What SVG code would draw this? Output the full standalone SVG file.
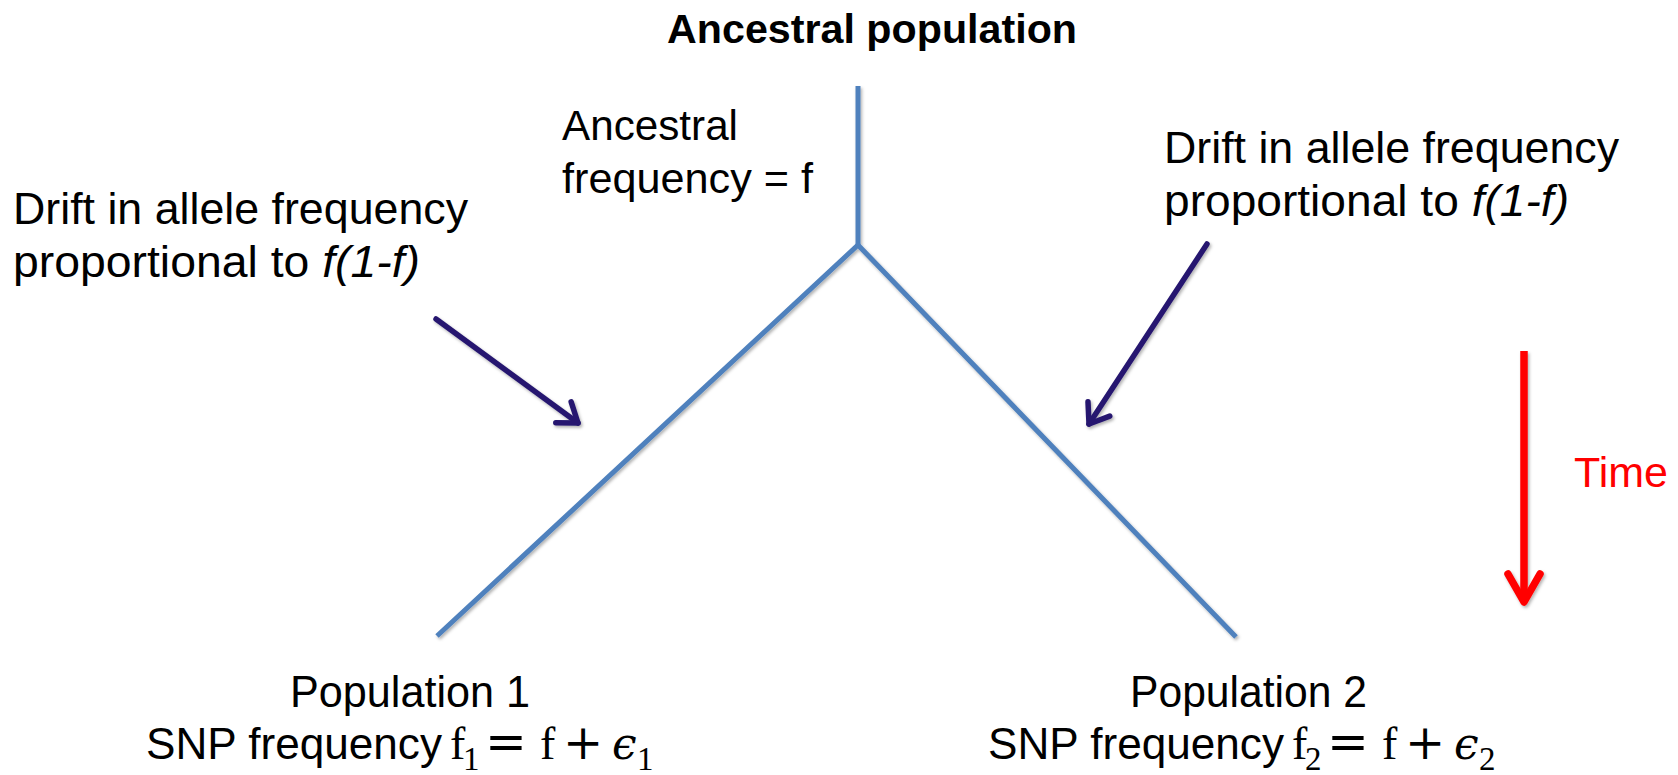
<svg xmlns="http://www.w3.org/2000/svg" width="1678" height="775" viewBox="0 0 1678 775">
  <defs>
    <style>
      .t { font-family: "Liberation Sans", Arial, sans-serif; fill: #000; }
      .m { font-family: "Liberation Serif", "Times New Roman", serif; fill: #000; }
      .ms { font-family: "DejaVu Serif", "Liberation Serif", serif; fill: #000; }
      .tree { fill: none; stroke: #4F81BD; stroke-width: 5; stroke-linecap: butt; stroke-linejoin: miter; }
      .drift { fill: none; stroke: #26186F; stroke-width: 5.5; stroke-linecap: round; }
      .time { fill: none; stroke: #FF0000; stroke-width: 7.5; }
    </style>
    <filter id="sh" filterUnits="userSpaceOnUse" x="0" y="0" width="1678" height="775">
      <feDropShadow dx="1.5" dy="2" stdDeviation="1.5" flood-color="#000" flood-opacity="0.3"/>
    </filter>
    <marker id="headDark" markerUnits="userSpaceOnUse" viewBox="-24 -16 28 32" refX="0" refY="0" markerWidth="28" markerHeight="32" orient="auto" overflow="visible">
      <path d="M-18,-13 L0,0 L-18,13" fill="none" stroke="#26186F" stroke-width="5.5" stroke-linecap="round" stroke-linejoin="round"/>
    </marker>
    <marker id="headRed" markerUnits="userSpaceOnUse" viewBox="-34 -20 38 40" refX="0" refY="0" markerWidth="38" markerHeight="40" orient="auto" overflow="visible">
      <path d="M-28,-16 L0,0 L-28,16" fill="none" stroke="#FF0000" stroke-width="7.5" stroke-linecap="round" stroke-linejoin="round"/>
    </marker>
  </defs>

  <rect x="0" y="0" width="1678" height="775" fill="#FFFFFF"/>

  <g id="connectors">
    <g id="tree" filter="url(#sh)">
      <path class="tree" d="M858,86 L858,245"/>
      <path class="tree" d="M437,636 L858,245 L1236,637"/>
    </g>
    <g id="drift-arrows" filter="url(#sh)">
      <path class="drift" d="M436,319 L578,423" marker-end="url(#headDark)"/>
      <path class="drift" d="M1207,244 L1089,424" marker-end="url(#headDark)"/>
    </g>
    <g id="time-arrow" filter="url(#sh)">
      <path class="time" d="M1524,351 L1524,602" marker-end="url(#headRed)"/>
    </g>
  </g>

  <g id="title">
    <text class="t" x="667" y="43" font-size="40" font-weight="bold" textLength="410" lengthAdjust="spacingAndGlyphs">Ancestral population</text>
  </g>

  <g id="ancestral-frequency">
    <text class="t" x="562" y="140" font-size="43" textLength="176" lengthAdjust="spacingAndGlyphs">Ancestral</text>
    <text class="t" x="562" y="193" font-size="43" textLength="251" lengthAdjust="spacingAndGlyphs">frequency = f</text>
  </g>

  <g id="drift-left">
    <text class="t" x="13" y="224" font-size="45" textLength="455" lengthAdjust="spacingAndGlyphs">Drift in allele frequency</text>
    <text class="t" x="13" y="277" font-size="45" textLength="407" lengthAdjust="spacingAndGlyphs">proportional to <tspan font-style="italic">f(1-f)</tspan></text>
  </g>

  <g id="drift-right">
    <text class="t" x="1164" y="163" font-size="45" textLength="455" lengthAdjust="spacingAndGlyphs">Drift in allele frequency</text>
    <text class="t" x="1164" y="216" font-size="45" textLength="405" lengthAdjust="spacingAndGlyphs">proportional to <tspan font-style="italic">f(1-f)</tspan></text>
  </g>

  <g id="time-label">
    <text class="t" x="1574" y="487" font-size="43" style="fill:#FF0000" textLength="94" lengthAdjust="spacingAndGlyphs">Time</text>
  </g>

  <g id="population-1">
    <text class="t" x="290" y="707" font-size="44" textLength="240" lengthAdjust="spacingAndGlyphs">Population 1</text>
    <text class="t" x="146" y="759" font-size="44" textLength="296" lengthAdjust="spacingAndGlyphs">SNP frequency</text>
    <text class="m" x="450" y="759" font-size="46">f</text>
    <text class="m" x="463" y="770" font-size="33">1</text>
    <text class="ms" x="485" y="759" font-size="50">=</text>
    <text class="m" x="540" y="759" font-size="46">f</text>
    <text class="ms" x="563" y="759" font-size="48">+</text>
    <text class="ms" x="612" y="759" font-size="44" font-style="italic">ϵ</text>
    <text class="m" x="637" y="770" font-size="33">1</text>
  </g>

  <g id="population-2">
    <text class="t" x="1130" y="707" font-size="44" textLength="237" lengthAdjust="spacingAndGlyphs">Population 2</text>
    <text class="t" x="988" y="759" font-size="44" textLength="296" lengthAdjust="spacingAndGlyphs">SNP frequency</text>
    <text class="m" x="1292" y="759" font-size="46">f</text>
    <text class="m" x="1305" y="770" font-size="33">2</text>
    <text class="ms" x="1327" y="759" font-size="50">=</text>
    <text class="m" x="1382" y="759" font-size="46">f</text>
    <text class="ms" x="1405" y="759" font-size="48">+</text>
    <text class="ms" x="1454" y="759" font-size="44" font-style="italic">ϵ</text>
    <text class="m" x="1479" y="770" font-size="33">2</text>
  </g>
</svg>
